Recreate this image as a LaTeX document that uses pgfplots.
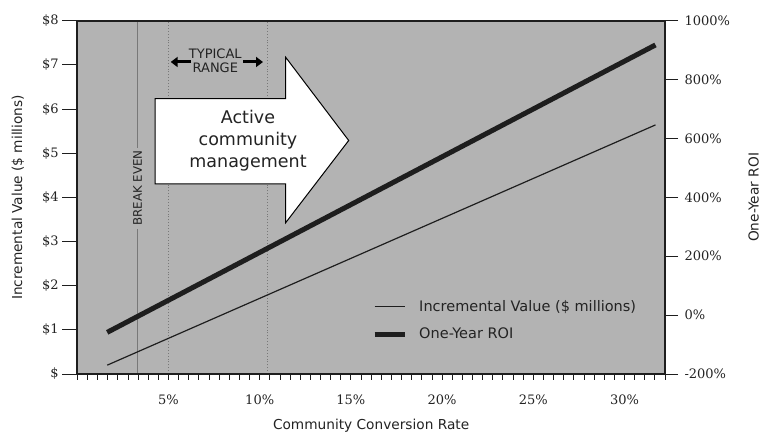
\documentclass[border=0pt]{standalone}
\usepackage{pgfplots}
\pgfplotsset{compat=1.18}
\usepackage{pgfplotstable}
\usepackage{fontspec}
\setmainfont{DejaVu Sans}
\newfontfamily\tickfont{DejaVu Serif}
\usetikzlibrary{arrows.meta}
\definecolor{bggray}{RGB}{179,179,179}
\definecolor{axisc}{RGB}{30,30,30}
\definecolor{refgray}{RGB}{120,120,120}
\definecolor{txtc}{RGB}{35,35,35}

\pgfplotstableread{
x val
1.64 0.20
31.70 5.64
}\incval
\pgfplotstableread{
x roi
1.64 -58.6
31.70 917.6
}\roidata

\pgfplotsset{
  base/.style={
    at={(77.3pt,61pt)}, anchor=south west,
    scale only axis, width=587.7pt, height=353.3pt,
    xmin=0, xmax=32.2222,
    tick align=outside,
    tick style={line width=0.8pt, color=axisc},
    axis line style={line width=1.8pt, color=axisc},
    ticklabel style={font=\tickfont\fontsize{13}{15}\selectfont, text=txtc},
    label style={font=\fontsize{13.7}{16}\selectfont, text=txtc},
  }
}

\begin{document}
\begin{tikzpicture}
\useasboundingbox (0,0) rectangle (769pt,435pt);
% main axis: background, box, x axis, incremental value
\begin{axis}[base,
  ymin=0, ymax=8,
  axis background/.style={fill=bggray},
  axis on top,
  xtick={5,10,...,30},
  xticklabels={5\%,10\%,15\%,20\%,25\%,30\%},
  xticklabel style={yshift=-11pt},
  minor xtick={0,0.555556,...,32.3},
  xtick pos=left,
  major tick length=6pt, minor tick length=6pt,
  ytick=\empty,
  xlabel={Community Conversion Rate},
  xlabel style={at={(axis description cs:0.5,-0.146)}, anchor=center},
  legend cell align=left,
  legend style={draw=none, fill=none, at={(axis description cs:0.5015,0.21)}, anchor=north west,
    font=\fontsize{14.5}{17}\selectfont, text=txtc, row sep=15.7pt, column sep=12pt, inner sep=0pt,
    nodes={inner sep=0pt, outer sep=0pt}},
  legend image code/.code={\draw[#1] (0pt,0pt) -- (30pt,0pt);},
]
\draw[refgray, line width=1pt] (axis cs:3.3,0) -- (axis cs:3.3,8);
\draw[refgray, dotted, line width=0.9pt] (axis cs:5,0) -- (axis cs:5,8);
\draw[refgray, dotted, line width=0.9pt] (axis cs:10.4,0) -- (axis cs:10.4,8);
\node[rotate=90, fill=bggray, inner sep=3pt, text=txtc, font=\fontsize{11.8}{13}\selectfont]
  at (axis cs:3.3,4.21) {BREAK EVEN};
\addplot[axisc, line width=1.2pt] table[x=x, y=val] {\incval};
\addlegendentry{Incremental Value (\$ millions)}
\addlegendimage{axisc, line width=5pt}
\addlegendentry{One-Year ROI}
\end{axis}
% left y axis
\begin{axis}[base,
  ymin=0, ymax=8,
  axis y line*=left, axis x line=none,
  ytick={0,1,...,8},
  yticklabels={\$,\$1,\$2,\$3,\$4,\$5,\$6,\$7,\$8},
  major tick length=15pt,
  ylabel={Incremental Value (\$ millions)},
  ylabel style={at={(axis description cs:-0.1009,0.5)}, anchor=center},
]
\end{axis}
% right y axis: ROI
\begin{axis}[base,
  ymin=-200, ymax=1000,
  axis y line*=right, axis x line=none,
  ytick={-200,0,...,1000},
  yticklabels={-200\%,0\%,200\%,400\%,600\%,800\%,1000\%},
  yticklabel style={xshift=3pt},
  major tick length=13pt,
  ylabel={One-Year ROI},
  ylabel style={at={(axis description cs:1.151,0.5)}, anchor=center},
]
\addplot[axisc, line width=5pt] table[x=x, y=roi] {\roidata};
\end{axis}
% annotation arrow
\draw[black, line width=1pt, fill=white, line join=miter]
  (155pt,336.3pt) -- (285.7pt,336.3pt) -- (285.7pt,377.7pt) -- (348.7pt,294.5pt)
  -- (285.7pt,212.3pt) -- (285.7pt,251pt) -- (155pt,251pt) -- cycle;
\node[align=center, text=txtc, font=\fontsize{17.5}{22}\selectfont] at (248pt,294pt)
  {Active\\community\\management};
\node[align=center, text=txtc, font=\fontsize{13}{14.4}\selectfont, inner sep=0pt] at (215.3pt,374pt)
  {TYPICAL\\RANGE};
\draw[black, line width=3pt, -{Triangle[length=7pt,width=10pt]}] (191pt,373pt) -- (170.7pt,373pt);
\draw[black, line width=3pt, -{Triangle[length=7pt,width=10pt]}] (243pt,373pt) -- (263pt,373pt);
\end{tikzpicture}
\end{document}
